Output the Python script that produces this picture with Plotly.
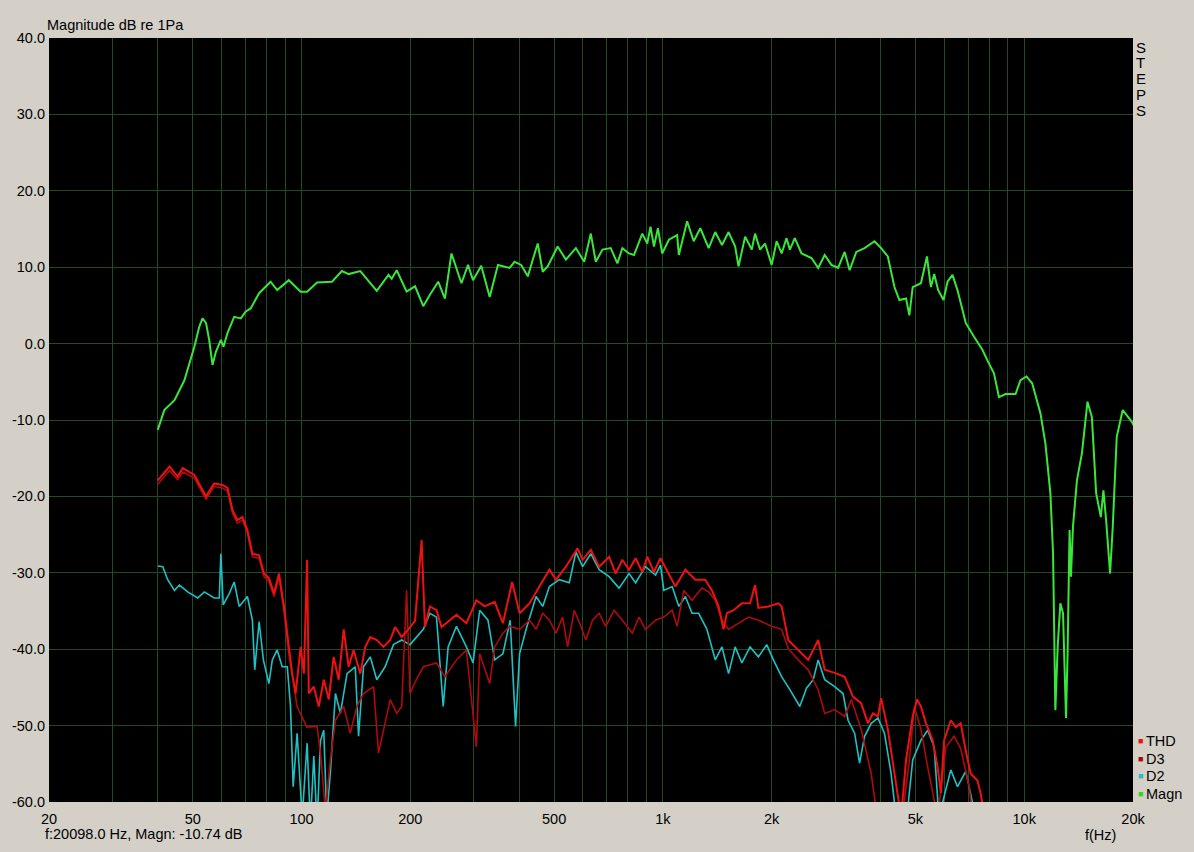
import plotly.graph_objects as go

# ---------------- data ----------------
magn_f = [40, 41.7, 44.5, 47.4, 50.5, 52.1, 53.2, 54.4, 55.5, 56.7, 57.9, 59.8, 60.8, 62.4, 65.1, 67.9,
          70.1, 72.3, 76.3, 82.1, 85.6, 92.2, 99.4, 103.6, 110.4, 121.4, 129.3, 135.0, 145.4, 161.5,
          174.0, 177.6, 183.4, 195.3, 206.1, 217.2, 226.6, 238.9, 249.3, 259.9, 277.0, 288.9, 298.2,
          314.3, 331.6, 349.5, 376.5, 388.6, 405.3, 422.9, 436.5, 450.5, 464.9, 479.9, 511.2, 539,
          574.4, 605.8, 631.7, 652.1, 680.4, 717.2, 748.3, 772.4, 805.9, 831.8, 849.4, 876.8, 905.1,
          924.2, 944.5, 968.8, 995.4, 1039, 1095, 1107, 1167, 1217, 1269, 1339, 1396, 1457, 1520,
          1585, 1619, 1689, 1762, 1799, 1857, 1917, 2000, 2064, 2131, 2199, 2246, 2318, 2419, 2578,
          2690, 2804, 2927, 3054, 3184, 3287, 3430, 3615, 3852, 3976, 4018, 4193, 4373, 4513, 4709,
          4809, 4913, 5178, 5379, 5517, 5634, 5779, 5980, 6134, 6331, 6535, 6889, 7263, 7660, 7907,
          8246, 8511, 8880, 9462, 9766, 10145, 10519, 11088, 11446, 11814, 12018, 12194, 12375,
          12588, 12805, 13050, 13183, 13351, 13470, 13641, 13991, 14440, 14965, 15388, 15815, 16293,
          16565, 16851, 17283, 17579, 18030, 18733, 19213, 19833, 20098]
magn_db = [-11.3, -8.7, -7.4, -4.8, -0.4, 2.2, 3.3, 2.7, 0.5, -2.8, -1.1, 0.5, -0.4, 1.4, 3.5, 3.3,
           4.2, 4.6, 6.6, 8.1, 7.0, 8.3, 6.8, 6.8, 8.0, 8.1, 9.5, 9.1, 9.5, 6.9,
           9.0, 8.5, 9.6, 6.8, 7.5, 4.9, 6.4, 8.1, 5.9, 11.8, 7.9, 10.3, 8.3,
           10.2, 6.1, 10.3, 9.9, 10.7, 10.3, 8.8, 11.0, 13.1, 9.4, 10.1, 12.7, 11.0,
           12.5, 10.7, 14.4, 10.7, 12.3, 12.5, 10.5, 12.5, 11.8, 11.6, 12.7, 14.4, 13.1,
           15.3, 12.7, 15.1, 11.8, 13.6, 14.2, 11.6, 16.0, 13.4, 15.1, 12.5, 14.6, 12.9, 14.6,
           12.7, 10.1, 14.0, 12.3, 14.4, 12.3, 13.1, 10.3, 13.4, 11.8, 13.8, 12.3, 13.8, 11.8, 11.2,
           9.9, 11.6, 10.3, 9.9, 12.0, 9.6, 12.0, 12.5, 13.4, 12.7, 12.5, 11.4, 7.4, 5.7, 5.9,
           3.7, 7.4, 7.9, 11.4, 7.4, 9.1, 7.0, 5.7, 8.1, 9.0, 7.0, 2.7, 0.9, -0.8, -2.2,
           -3.9, -7.0, -6.6, -6.6, -4.8, -4.3, -5.2, -9.1, -13.1, -19.6, -27.5, -48.0, -39.7,
           -34.0, -35.3, -49.0, -40.5, -24.4, -30.5, -24.0, -17.9, -14.4, -7.6, -9.6, -19.6, -22.7,
           -19.2, -23.1, -30.1, -24.0, -12.2, -8.7, -9.3, -10.2, -10.74]

thd_f = [40, 43.1, 45.4, 46.9, 50.5, 54.4, 57.3, 60.4, 62.4, 64.4, 66.4, 68.6, 70.8, 73.1, 76.3,
         78.7, 81.2, 83.9, 86.6, 89.4, 92.2, 94.2, 96.3, 99.4, 101.5, 103.6, 104.7, 108.1, 111.6,
         115.2, 118.9, 122.7, 126.7, 130.8, 135.0, 139.3, 145.4, 150.1, 154.9, 161.5, 168.5, 175.9,
         181.5, 189.3, 197.5, 206.1, 214.9, 219.5, 226.6, 236.3, 244.0, 268.3, 285.9, 304.6, 321.3,
         342.3, 360.8, 382.6, 401.2, 427.4, 455.3, 485.2, 505.9, 539, 580.6, 599.5, 631.7, 666.3,
         709.9, 740.2, 772.4, 805.9, 840.4, 876.8, 905.1, 944.5, 984.7, 1039, 1083, 1154, 1229,
         1310, 1367, 1426, 1472, 1503, 1569, 1654, 1743, 1799, 1838, 1959, 2087, 2131, 2223, 2369,
         2524, 2690, 2804, 2988, 3184, 3358, 3539, 3693, 3812, 3936, 4018, 4193, 4328, 4468, 4562,
         4709, 4913, 5050, 5178, 5346, 5578, 5757, 5879, 6003, 6263, 6465, 6673, 6889, 7112, 7421,
         7578, 7823]
thd_db = [-17.9, -16.1, -17.4, -16.3, -17.2, -20.0, -18.3, -18.5, -18.9, -21.8, -23.1, -22.7, -24.4,
          -27.5, -27.7, -30.1, -30.7, -32.7, -30.1, -34.4, -39.7, -43.2, -45.8, -39.7, -43.2, -28.3,
          -45.8, -44.9, -47.5, -44.0, -46.6, -41.0, -44.0, -37.4, -42.3, -40.1, -43.2, -39.7, -38.4,
          -38.8, -39.7, -38.8, -37.1, -38.4, -37.4, -36.3, -25.7, -37.1, -34.4, -34.9, -37.1, -35.5,
          -36.6, -33.6, -34.4, -33.8, -36.6, -31.2, -35.3, -34.0, -31.8, -29.6, -30.9, -29.2, -26.8,
          -28.3, -27.0, -29.2, -27.9, -30.1, -28.3, -29.6, -28.1, -29.9, -27.9, -29.9, -28.1, -30.1,
          -31.8, -29.6, -30.9, -30.9, -32.3, -34.4, -37.4, -35.3, -34.9, -34.0, -34.0, -31.6, -34.6,
          -34.4, -34.0, -34.4, -38.8, -40.1, -41.4, -38.8, -42.7, -43.1, -43.6, -46.2, -47.1, -49.7,
          -48.4, -48.8, -46.4, -50.5, -54.9, -58.8, -62.0, -54.5, -48.8, -46.6, -47.5, -49.7, -51.9,
          -55.4, -58.8, -51.9, -49.3, -50.2, -49.7, -53.3, -56.3, -57.2, -58.9, -63.0]

d3_f = [40, 43.1, 45.4, 46.9, 50.5, 54.4, 57.3, 60.4, 62.4, 64.4, 66.4, 68.6, 70.8, 73.1, 76.3, 78.7,
        81.2, 83.9, 86.6, 89.4, 92.2, 97.2, 103.4, 110.4, 112.8, 116.4, 120.2, 124.1, 130.8, 136.4,
        142.3, 148.4, 158.2, 163.3, 175.9, 183.4, 189.3, 195.3, 199.6, 207.8, 217.2, 236.3, 249.3,
        268.3, 285.9, 304.6, 311.2, 331.6, 342.3, 360.8, 376.5, 401.2, 427.4, 445.7, 464.9, 485.2,
        505.9, 527.8, 545.0, 568.5, 593, 612, 638.6, 666.3, 694.8, 732.7, 772.4, 823, 858.8, 895.4,
        954.1, 1006, 1061, 1095, 1142, 1204, 1283, 1339, 1396, 1457, 1520, 1619, 1725, 1838, 2000,
        2131, 2223, 2369, 2524, 2690, 2804, 2988, 3184, 3322, 3539, 3772, 3918, 4562, 4800, 4963,
        5178, 5404, 5757, 6069, 6397, 6673, 7038, 7250]
d3_db = [-18.4, -16.6, -17.8, -16.8, -17.6, -20.4, -18.7, -18.9, -19.3, -22.2, -23.5, -23.1, -24.8,
         -27.9, -28.1, -30.5, -31.1, -33.1, -30.5, -35.0, -40.5, -47.5, -50.2, -50.1, -53.6, -61.0,
         -54.5, -49.3, -47.5, -51.0, -47.5, -45.8, -44.9, -53.6, -46.6, -48.4, -47.5, -32.3, -45.8,
         -44.0, -42.3, -41.8, -43.6, -41.4, -40.1, -52.8, -40.6, -44.5, -39.7, -37.9, -37.0, -37.4,
         -36.2, -37.4, -35.3, -36.2, -37.9, -35.8, -39.7, -34.9, -37.0, -38.8, -36.2, -35.3, -37.0,
         -34.9, -36.2, -37.9, -35.8, -37.4, -36.2, -35.8, -34.9, -37.0, -32.3, -33.6, -32.0, -32.5,
         -33.6, -36.2, -37.4, -36.6, -35.8, -36.2, -37.0, -37.4, -39.9, -41.4, -42.7, -45.3, -48.4,
         -47.9, -48.8, -46.6, -50.5, -56.3, -62.0, -63.0, -55.0, -47.5, -50.5, -55.4, -62.0, -52.8,
         -51.4, -53.0, -58.0, -63.0]

d2_f = [40, 41.3, 42.6, 44.5, 45.9, 48.4, 51.6, 53.8, 57.3, 59.2, 59.8, 60.7, 63.1, 65.1, 67.2, 70.8,
        73.1, 74.2, 76.3, 78.4, 81.2, 83.0, 85.6, 88.4, 91.3, 93.2, 94.8, 97.2, 100.4, 103.6, 105.8,
        108.1, 110.4, 112.8, 115.2, 117.4, 120.2, 124.1, 128.1, 133.6, 140.8, 143.8, 148.4, 154.9,
        161.5, 170.3, 179.6, 189.3, 199.6, 208.2, 217.2, 226.6, 236.3, 246.6, 254.5, 268.3, 285.9,
        298.2, 311.2, 328.0, 342.3, 360.8, 377.9, 391.1, 401.2, 418.3, 445.7, 464.9, 485.2, 516.8,
        550.8, 574.4, 599.5, 631.7, 666.3, 709.9, 756.4, 805.9, 840.4, 895.4, 954.1, 984.7, 1006,
        1061, 1107, 1154, 1204, 1256, 1324, 1396, 1457, 1520, 1585, 1654, 1743, 1838, 1938, 2022,
        2131, 2246, 2393, 2497, 2606, 2690, 2804, 2988, 3152, 3254, 3393, 3502, 3615, 3772, 3936,
        4104, 4282, 4420, 4709, 4913, 5178, 5404, 5634, 5805, 6263, 6535, 6889, 7340]
d2_db = [-29.1, -29.2, -30.9, -32.3, -31.6, -32.5, -33.3, -32.5, -33.3, -33.3, -27.5, -34.2, -32.7,
         -31.2, -34.4, -33.1, -36.2, -42.7, -36.4, -41.4, -44.5, -41.4, -40.1, -42.3, -42.3, -47.5,
         -58.0, -51.0, -62.0, -52.3, -63.0, -54.0, -63.0, -52.0, -50.6, -62.0, -56.0, -45.8, -48.4,
         -43.2, -42.3, -51.4, -42.3, -41.0, -44.0, -42.3, -39.4, -38.8, -39.4, -38.4, -37.4, -35.3,
         -35.8, -47.5, -39.7, -37.0, -39.7, -41.8, -34.9, -36.2, -41.4, -40.6, -36.2, -50.1, -40.6,
         -37.4, -33.1, -34.4, -31.8, -30.9, -31.3, -27.3, -29.2, -27.5, -29.6, -30.5, -32.0, -30.1,
         -31.3, -29.2, -30.3, -29.0, -32.3, -31.8, -34.4, -33.1, -35.3, -35.3, -37.4, -41.4, -39.7,
         -43.2, -39.7, -41.8, -39.7, -41.0, -39.4, -41.4, -43.6, -45.3, -47.5, -45.1, -44.0, -41.4,
         -44.0, -44.9, -45.8, -49.3, -51.0, -54.9, -51.4, -49.7, -49.0, -51.0, -56.3, -62.0, -63.0,
         -54.5, -51.9, -50.6, -52.8, -62.0, -55.8, -58.0, -56.0, -62.0]

grid_freqs = [20, 30, 40, 50, 60, 70, 80, 90, 100, 200, 300, 400, 500, 600, 700, 800, 900,
              1000, 2000, 3000, 4000, 5000, 6000, 7000, 8000, 9000, 10000, 20000]
labelled = {20: "20", 50: "50", 100: "100", 200: "200", 500: "500", 1000: "1k",
            2000: "2k", 5000: "5k", 10000: "10k", 20000: "20k"}
y_ticks = [40, 30, 20, 10, 0, -10, -20, -30, -40, -50, -60]

series = [
    ("D2", d2_f, d2_db, "#1fc2c4", 1.6),
    ("D3", d3_f, d3_db, "#b00a0a", 1.6),
    ("THD", thd_f, thd_db, "#ee1111", 2.0),
    ("Magn", magn_f, magn_db, "#3ae63a", 2.0),
]
legend_items = [("THD", "#ee1111"), ("D3", "#a80808"), ("D2", "#1fc2c4"), ("Magn", "#22dd22")]

# ---------------- figure ----------------
W, H = 1194, 852
L, R, T, B = 44, 61, 38, 50
FONT = "Liberation Sans, Arial, sans-serif"
FS = 14.5
BG = "#d4d0c8"
GRID = "#234a28"

fig = go.Figure()
for name, f, v, col, w in series:
    fig.add_trace(go.Scatter(x=f, y=v, mode="lines", name=name,
                             line=dict(color=col, width=w), showlegend=False, hoverinfo="skip"))

fig.update_layout(
    width=W, height=H, autosize=False,
    margin=dict(l=L, r=R, t=T, b=B, pad=0),
    paper_bgcolor=BG, plot_bgcolor="black",
    font=dict(family=FONT, size=FS, color="black"),
    xaxis=dict(type="log", range=[1.30103, 4.30103], tickmode="array",
               tickvals=grid_freqs, ticktext=[labelled.get(g, "") for g in grid_freqs],
               showgrid=True, gridcolor=GRID, gridwidth=1, zeroline=False,
               ticks="", showline=False, tickfont=dict(size=FS), ticklabelstandoff=6),
    yaxis=dict(range=[-60, 40], tickmode="array", tickvals=y_ticks,
               ticktext=[f"{t:.1f}" for t in y_ticks],
               showgrid=True, gridcolor=GRID, gridwidth=1, zeroline=False,
               ticks="", showline=False, tickfont=dict(size=FS), ticklabelstandoff=3),
)

pw, ph = W - L - R, H - T - B


def px(xp):
    return (xp - L) / pw


def py(yp):
    return (H - B - yp) / ph


ann = []
ann.append(dict(x=px(40), y=py(25), text="Magnitude dB re 1Pa", xanchor="left", yanchor="middle"))
ann.append(dict(x=px(38), y=py(834), text="f:20098.0 Hz, Magn: -10.74 dB", xanchor="left", yanchor="middle"))
ann.append(dict(x=px(1100), y=py(835), text="f(Hz)", xanchor="center", yanchor="middle"))
for i, ch in enumerate("STEPS"):
    ann.append(dict(x=px(1141), y=py(47 + i * 15.8), text=ch, xanchor="center", yanchor="middle",
                    font=dict(size=15, family=FONT, color="black")))
for i, (name, col) in enumerate(legend_items):
    yy = 741 + i * 17.5
    ann.append(dict(x=px(1136), y=py(yy), text="■",
                    xanchor="left", yanchor="middle", font=dict(size=9, color=col, family=FONT)))
    ann.append(dict(x=px(1144), y=py(yy), text=name, xanchor="left", yanchor="middle"))

for a in ann:
    a.setdefault("xref", "paper")
    a.setdefault("yref", "paper")
    a.setdefault("showarrow", False)
    a.setdefault("font", dict(size=FS, family=FONT, color="black"))
fig.update_layout(annotations=ann)

fig.write_html("out.html", config={"displayModeBar": False},
               post_script="document.body.style.margin='0';document.body.style.background='#d4d0c8';")
